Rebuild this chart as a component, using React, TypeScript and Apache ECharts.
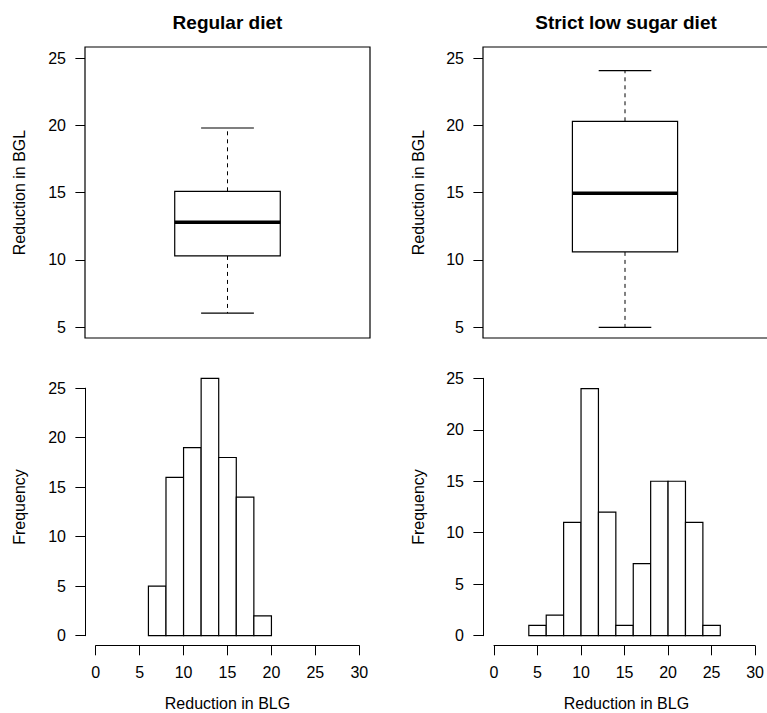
import React, { useEffect, useRef } from "react";
import * as echarts from "echarts";

// ---- data ----
const panelTitles = ["Regular diet", "Strict low sugar diet"];
// [lower whisker, Q1, median, Q3, upper whisker]
const regularBox = [6.05, 10.3, 12.8, 15.1, 19.8];
const strictBox = [5.0, 10.6, 14.95, 20.3, 24.06];

const regularBinEdges = [6, 8, 10, 12, 14, 16, 18, 20];
const regularCounts = [5, 16, 19, 26, 18, 14, 2];
const strictBinEdges = [4, 6, 8, 10, 12, 14, 16, 18, 20, 22, 24, 26];
const strictCounts = [1, 2, 11, 24, 12, 1, 7, 15, 15, 11, 1];

const boxYTicks = { min: 5, max: 25, interval: 5 };
const histXTicks = { min: 0, max: 30, interval: 5 };
const histYTicks = { min: 0, max: 25, interval: 5 };

const boxYLabel = "Reduction in BGL";
const histXLabel = "Reduction in BLG";
const histYLabel = "Frequency";

const FONT = "'Liberation Sans', Arial, Helvetica, sans-serif";

function binsOf(edges: number[], counts: number[]) {
  return counts.map((c, i) => [edges[i], edges[i + 1], c]);
}

const renderBox = (params: any, api: any) => {
  const x = api.value(0);
  const lo = api.value(1), q1 = api.value(2), med = api.value(3), q3 = api.value(4), hi = api.value(5);
  const [xl, yLo] = api.coord([x - 0.2, lo]);
  const [xr, yQ1] = api.coord([x + 0.2, q1]);
  const [, yMed] = api.coord([x, med]);
  const [, yQ3] = api.coord([x, q3]);
  const [xc, yHi] = api.coord([x, hi]);
  const [cl] = api.coord([x - 0.1, lo]);
  const [cr] = api.coord([x + 0.1, lo]);
  const stroke = "#000";
  return {
    type: "group",
    children: [
      { type: "line", shape: { x1: xc, y1: yQ3, x2: xc, y2: yHi }, style: { stroke, lineWidth: 1, lineDash: [4, 4] } },
      { type: "line", shape: { x1: xc, y1: yQ1, x2: xc, y2: yLo }, style: { stroke, lineWidth: 1, lineDash: [4, 4] } },
      { type: "line", shape: { x1: cl, y1: yHi, x2: cr, y2: yHi }, style: { stroke, lineWidth: 1.2 } },
      { type: "line", shape: { x1: cl, y1: yLo, x2: cr, y2: yLo }, style: { stroke, lineWidth: 1.2 } },
      { type: "rect", shape: { x: xl, y: yQ3, width: xr - xl, height: yQ1 - yQ3 }, style: { fill: "#fff", stroke, lineWidth: 1.2 } },
      { type: "line", shape: { x1: xl, y1: yMed, x2: xr, y2: yMed }, style: { stroke, lineWidth: 3.5 } },
    ],
  };
};

const renderBar = (params: any, api: any) => {
  const p0 = api.coord([api.value(0), 0]);
  const p1 = api.coord([api.value(1), api.value(2)]);
  return {
    type: "rect",
    shape: { x: p0[0], y: p1[1], width: p1[0] - p0[0], height: p0[1] - p1[1] },
    style: { fill: "#fff", stroke: "#000", lineWidth: 1.2 },
  };
};

const labelStyle = { color: "#000", fontSize: 16, fontFamily: FONT };

function boxYAxis(gridIndex: number) {
  return {
    type: "value",
    gridIndex,
    ...boxYTicks,
    axisLine: { show: false, onZero: false },
    axisTick: { show: true, length: 9.6, lineStyle: { color: "#000", width: 1 } },
    axisLabel: { ...labelStyle, margin: 19 },
    splitLine: { show: false },
  };
}
function histXAxis(gridIndex: number) {
  return {
    type: "value",
    gridIndex,
    ...histXTicks,
    offset: 10,
    axisLine: { show: true, onZero: false, lineStyle: { color: "#000", width: 1 } },
    axisTick: { show: true, length: 9.6, lineStyle: { color: "#000", width: 1 } },
    axisLabel: { ...labelStyle, margin: 19 },
    splitLine: { show: false },
  };
}
function histYAxis(gridIndex: number, offset: number) {
  return {
    type: "value",
    gridIndex,
    ...histYTicks,
    offset,
    axisLine: { show: true, onZero: false, lineStyle: { color: "#000", width: 1 } },
    axisTick: { show: true, length: 9.6, lineStyle: { color: "#000", width: 1 } },
    axisLabel: { ...labelStyle, margin: 19 },
    splitLine: { show: false },
  };
}

function txt(text: string, x: number, y: number, opts: any = {}) {
  return {
    type: "text",
    x,
    y,
    rotation: opts.rotation || 0,
    style: {
      text,
      fill: "#000",
      fontSize: opts.fontSize || 16,
      fontWeight: opts.fontWeight || "normal",
      fontFamily: FONT,
      align: "center",
      verticalAlign: "middle",
    },
  };
}

export default function App() {
  const ref = useRef<HTMLDivElement>(null);
  useEffect(() => {
    if (!ref.current) return;
    const chart = echarts.init(ref.current, null, { renderer: "svg" });
    const option: any = {
      animation: false,
      backgroundColor: "#fff",
      grid: [
        { left: 85, top: 58, width: 285, height: 269.3 },
        { left: 483, top: 58, width: 285, height: 269.3 },
        { left: 95.7, top: 388.2, width: 263.6, height: 247.5 },
        { left: 494, top: 378.3, width: 264.7, height: 257.4 },
      ],
      xAxis: [
        { type: "value", gridIndex: 0, min: 0.46, max: 1.54, show: false },
        { type: "value", gridIndex: 1, min: 0.46, max: 1.54, show: false },
        histXAxis(2),
        histXAxis(3),
      ],
      yAxis: [boxYAxis(0), boxYAxis(1), histYAxis(2, 10.7), histYAxis(3, 11)],
      series: [
        { type: "custom", xAxisIndex: 0, yAxisIndex: 0, renderItem: renderBox, data: [[1, ...regularBox]], encode: { x: 0, y: [1, 2, 3, 4, 5] } },
        { type: "custom", xAxisIndex: 1, yAxisIndex: 1, renderItem: renderBox, data: [[1, ...strictBox]], encode: { x: 0, y: [1, 2, 3, 4, 5] } },
        { type: "custom", xAxisIndex: 2, yAxisIndex: 2, renderItem: renderBar, data: binsOf(regularBinEdges, regularCounts), encode: { x: [0, 1], y: 2 } },
        { type: "custom", xAxisIndex: 3, yAxisIndex: 3, renderItem: renderBar, data: binsOf(strictBinEdges, strictCounts), encode: { x: [0, 1], y: 2 } },
      ],
      graphic: [
        { type: "rect", shape: { x: 85, y: 47, width: 285, height: 291 }, style: { fill: "none", stroke: "#000", lineWidth: 1.2 }, z: 10 },
        { type: "rect", shape: { x: 483, y: 47, width: 286, height: 291 }, style: { fill: "none", stroke: "#000", lineWidth: 1.2 }, z: 10 },
        txt(panelTitles[0], 227.5, 22, { fontSize: 19, fontWeight: "bold" }),
        txt(panelTitles[1], 626, 22, { fontSize: 19, fontWeight: "bold" }),
        txt(boxYLabel, 19, 192.5, { rotation: Math.PI / 2 }),
        txt(boxYLabel, 418, 192.5, { rotation: Math.PI / 2 }),
        txt(histYLabel, 19, 507, { rotation: Math.PI / 2 }),
        txt(histYLabel, 418, 507, { rotation: Math.PI / 2 }),
        txt(histXLabel, 227.5, 703),
        txt(histXLabel, 626.4, 703),
      ],
    };
    chart.setOption(option);
    return () => chart.dispose();
  }, []);
  return (
    <div
      ref={ref}
      style={{ position: "absolute", left: 0, top: 0, width: 767, height: 713, background: "#fff" }}
    />
  );
}
